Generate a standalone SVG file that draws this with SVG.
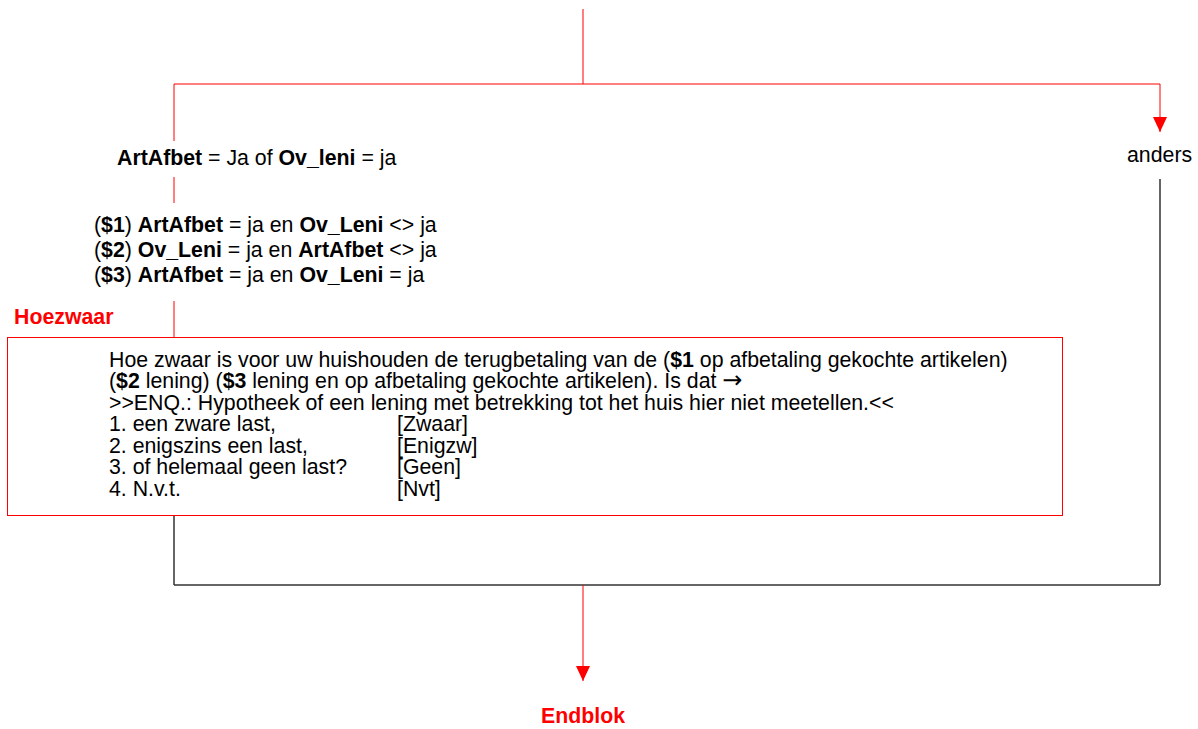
<svg xmlns="http://www.w3.org/2000/svg" width="1198" height="729" viewBox="0 0 1198 729">
<style>
text { font-family: "Liberation Sans", Arial, sans-serif; font-size: 21.3px; fill: #000; }
.b { font-weight: bold; }
.red { fill: #ff0000; font-weight: bold; }
.arw { font-family: "DejaVu Sans", sans-serif; font-size: 24px; }
.rl { stroke: #ff0000; stroke-width: 1; fill: none; }
.bl { stroke: #333333; stroke-width: 1.5; fill: none; }
.box { stroke: #ff0000; stroke-width: 1; fill: #ffffff; }
</style>
<defs>
<marker id="arr" markerUnits="userSpaceOnUse" markerWidth="15" markerHeight="14" refX="15" refY="7" orient="auto" viewBox="0 0 15 14">
<path d="M0,0 L15,7 L0,14 z" fill="#ff0000"/>
</marker>
</defs>
<rect width="1198" height="729" fill="#ffffff"/>
<g id="connectors">
<line class="rl" x1="583" y1="9" x2="583" y2="84"/>
<line class="rl" x1="174" y1="84" x2="1160" y2="84"/>
<line class="rl" x1="1160" y1="84" x2="1160" y2="132" marker-end="url(#arr)"/>
<line class="rl" x1="174" y1="84" x2="174" y2="141"/>
<line class="rl" x1="174" y1="177" x2="174" y2="203"/>
<line class="rl" x1="174" y1="301" x2="174" y2="337"/>
<line class="bl" x1="174" y1="516" x2="174" y2="585"/>
<line class="bl" x1="1160" y1="179" x2="1160" y2="585"/>
<line class="bl" x1="174" y1="585" x2="1160" y2="585"/>
<line class="rl" x1="583" y1="585" x2="583" y2="681" marker-end="url(#arr)"/>
</g>
<g id="cond-ja">
<text x="117" y="165"><tspan class="b">ArtAfbet</tspan> = Ja of <tspan class="b">Ov_leni</tspan> = ja</text>
</g>
<g id="cond-anders">
<text x="1127" y="162">anders</text>
</g>
<g id="cond-dollar">
<text x="94" y="232">(<tspan class="b">$1</tspan>) <tspan class="b">ArtAfbet</tspan> = ja en <tspan class="b">Ov_Leni</tspan> &lt;&gt; ja</text>
<text x="94" y="257">(<tspan class="b">$2</tspan>) <tspan class="b">Ov_Leni</tspan> = ja en <tspan class="b">ArtAfbet</tspan> &lt;&gt; ja</text>
<text x="94" y="282">(<tspan class="b">$3</tspan>) <tspan class="b">ArtAfbet</tspan> = ja en <tspan class="b">Ov_Leni</tspan> = ja</text>
</g>
<g id="hoezwaar">
<text class="red" x="14" y="324">Hoezwaar</text>
<rect class="box" x="7.5" y="337.5" width="1055" height="178"/>
<text x="109" y="366.5">Hoe zwaar is voor uw huishouden de terugbetaling van de (<tspan class="b">$1</tspan> op afbetaling gekochte artikelen)</text>
<text x="109" y="388">(<tspan class="b">$2</tspan> lening) (<tspan class="b">$3</tspan> lening en op afbetaling gekochte artikelen). Is dat <tspan class="arw">→</tspan></text>
<text x="109" y="409.5">&gt;&gt;ENQ.: Hypotheek of een lening met betrekking tot het huis hier niet meetellen.&lt;&lt;</text>
<text x="109" y="431">1. een zware last,</text>
<text x="397" y="431">[Zwaar]</text>
<text x="109" y="452.5">2. enigszins een last,</text>
<text x="397" y="452.5">[Enigzw]</text>
<text x="109" y="474">3. of helemaal geen last?</text>
<text x="397" y="474">[Geen]</text>
<text x="109" y="495.5">4. N.v.t.</text>
<text x="397" y="495.5">[Nvt]</text>
</g>
<g id="endblok">
<text class="red" x="583" y="723" text-anchor="middle">Endblok</text>
</g>
</svg>
